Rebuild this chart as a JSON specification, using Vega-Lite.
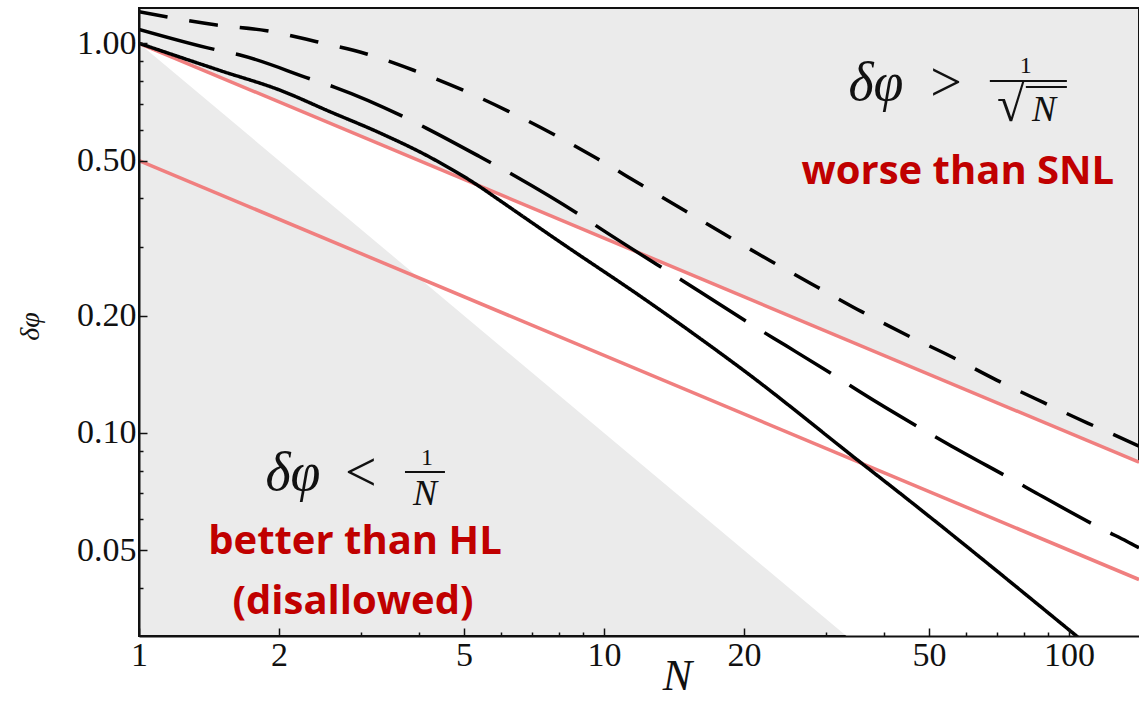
{
  "$schema": "https://vega.github.io/schema/vega-lite/v6.json",
  "width": 1000,
  "height": 628,
  "autosize": {"type": "none"},
  "padding": {"left": 139, "top": 8, "right": 0, "bottom": 66},
  "background": "white",
  "config": {
    "view": {"fill": "#ebebeb", "stroke": "#111111", "strokeWidth": 2}
  },
  "datasets": {
    "region": [
      {"N": 1, "v": 1, "v2": 1},
      {"N": 141.5, "v": 0.08407, "v2": 0.007067}
    ],
    "red": [
      {"N": 1, "v": 1, "line": "a"},
      {"N": 141.5, "v": 0.08407, "line": "a"},
      {"N": 1, "v": 0.5, "line": "b"},
      {"N": 141.5, "v": 0.04203, "line": "b"}
    ],
    "curves": [
      {"curve": "solid", "N": 1, "v": 1.0},
      {"curve": "solid", "N": 1.5, "v": 0.85},
      {"curve": "solid", "N": 2.01, "v": 0.758},
      {"curve": "solid", "N": 2.575, "v": 0.6675},
      {"curve": "solid", "N": 3.299, "v": 0.5885},
      {"curve": "solid", "N": 4.225, "v": 0.51},
      {"curve": "solid", "N": 5.41, "v": 0.4283},
      {"curve": "solid", "N": 5.879, "v": 0.4},
      {"curve": "solid", "N": 8.175, "v": 0.305},
      {"curve": "solid", "N": 12.13, "v": 0.2219},
      {"curve": "solid", "N": 16.09, "v": 0.1748},
      {"curve": "solid", "N": 20, "v": 0.1445},
      {"curve": "solid", "N": 35.9, "v": 0.0834},
      {"curve": "solid", "N": 43.31, "v": 0.07},
      {"curve": "solid", "N": 102.1, "v": 0.0306},
      {"curve": "solid", "N": 110, "v": 0.02845},
      {"curve": "long", "N": 1, "v": 1.086},
      {"curve": "long", "N": 1.472, "v": 0.961},
      {"curve": "long", "N": 1.649, "v": 0.933},
      {"curve": "long", "N": 2.351, "v": 0.808},
      {"curve": "long", "N": 2.639, "v": 0.771},
      {"curve": "long", "N": 3.765, "v": 0.642},
      {"curve": "long", "N": 4.156, "v": 0.605},
      {"curve": "long", "N": 5.41, "v": 0.5115},
      {"curve": "long", "N": 6.437, "v": 0.4563},
      {"curve": "long", "N": 9.103, "v": 0.3554},
      {"curve": "long", "N": 9.888, "v": 0.333},
      {"curve": "long", "N": 13.87, "v": 0.2576},
      {"curve": "long", "N": 16.09, "v": 0.2303},
      {"curve": "long", "N": 21.12, "v": 0.1872},
      {"curve": "long", "N": 24.71, "v": 0.167},
      {"curve": "long", "N": 32.45, "v": 0.1366},
      {"curve": "long", "N": 35.52, "v": 0.1275},
      {"curve": "long", "N": 49.83, "v": 0.1001},
      {"curve": "long", "N": 55.02, "v": 0.0935},
      {"curve": "long", "N": 77.18, "v": 0.0748},
      {"curve": "long", "N": 85.2, "v": 0.07},
      {"curve": "long", "N": 119.5, "v": 0.0562},
      {"curve": "long", "N": 133.1, "v": 0.0527},
      {"curve": "long", "N": 141.5, "v": 0.0507},
      {"curve": "short", "N": 1, "v": 1.205},
      {"curve": "short", "N": 1.469, "v": 1.114},
      {"curve": "short", "N": 1.882, "v": 1.077},
      {"curve": "short", "N": 2.411, "v": 1.0095},
      {"curve": "short", "N": 3.088, "v": 0.939},
      {"curve": "short", "N": 3.884, "v": 0.854},
      {"curve": "short", "N": 4.963, "v": 0.759},
      {"curve": "short", "N": 6.217, "v": 0.67},
      {"curve": "short", "N": 7.769, "v": 0.585},
      {"curve": "short", "N": 9.645, "v": 0.5067},
      {"curve": "short", "N": 12.05, "v": 0.4327},
      {"curve": "short", "N": 14.94, "v": 0.3717},
      {"curve": "short", "N": 18.48, "v": 0.3195},
      {"curve": "short", "N": 22.98, "v": 0.275},
      {"curve": "short", "N": 28.67, "v": 0.2372},
      {"curve": "short", "N": 35.83, "v": 0.2047},
      {"curve": "short", "N": 44.77, "v": 0.1783},
      {"curve": "short", "N": 55.94, "v": 0.1568},
      {"curve": "short", "N": 69.9, "v": 0.1366},
      {"curve": "short", "N": 88.1, "v": 0.1197},
      {"curve": "short", "N": 110, "v": 0.1058},
      {"curve": "short", "N": 122.5, "v": 0.1},
      {"curve": "short", "N": 141.5, "v": 0.0925}
    ],
    "bars": [
      {"N": 67.6, "N2": 99.0, "v": 0.8},
      {"N": 80.8, "N2": 99.0, "v": 0.772},
      {"N": 3.733, "N2": 4.55, "v": 0.0793}
    ],
    "labels": [
      {"role": "mathi", "t": "δφ", "N": 38.45, "v": 0.788},
      {"role": "math", "t": ">", "N": 54.4, "v": 0.788},
      {"role": "frac", "t": "1", "N": 80.8, "v": 0.8746},
      {"role": "rad", "t": "√", "N": 75.0, "v": 0.69},
      {"role": "fraci", "t": "N", "N": 88.4, "v": 0.674},
      {"role": "mathi", "t": "δφ", "N": 2.144, "v": 0.0784},
      {"role": "math", "t": "<", "N": 3.001, "v": 0.0784},
      {"role": "frac", "t": "1", "N": 4.163, "v": 0.0862},
      {"role": "fraci", "t": "N", "N": 4.12, "v": 0.0698},
      {"role": "red", "t": "worse than SNL", "N": 57.7, "v": 0.467},
      {"role": "red", "t": "better than HL", "N": 2.914, "v": 0.0524},
      {"role": "red", "t": "(disallowed)", "N": 2.886, "v": 0.0368}
    ]
  },
  "layer": [
    {
      "data": {"name": "region"},
      "mark": {"type": "area", "color": "white", "clip": true},
      "encoding": {
        "x": {
          "field": "N", "type": "quantitative",
          "scale": {"type": "log", "domain": [1, 141.5], "nice": false},
          "axis": {
            "title": "N",
            "titleFont": "Liberation Serif", "titleFontStyle": "italic", "titleFontWeight": "normal",
            "titleFontSize": 44, "titleColor": "#111111",
            "titleX": 538, "titleY": 53, "titleBaseline": "alphabetic", "titleAlign": "center",
            "values": [1, 2, 3, 4, 5, 6, 7, 8, 9, 10, 20, 30, 40, 50, 60, 70, 80, 90, 100],
            "labelExpr": "indexof([1,2,5,10,20,50,100], datum.value) >= 0 ? format(datum.value, 'd') : ''",
            "labelFont": "Liberation Serif", "labelFontSize": 34, "labelColor": "#111111",
            "labelPadding": 10, "labelFlush": false, "labelOverlap": false, "labelBaseline": "top",
            "tickSize": {"condition": {"test": "indexof([1,2,5,10,20,50,100], datum.value) >= 0", "value": -8}, "value": -4},
            "tickColor": "#111111", "tickWidth": 1.5,
            "domainColor": "#111111", "domainWidth": 2, "grid": false, "zindex": 1
          }
        },
        "y": {
          "field": "v", "type": "quantitative",
          "scale": {"type": "log", "domain": [0.0301, 1.232], "nice": false},
          "axis": {
            "title": "δφ",
            "titleFont": "Liberation Serif", "titleFontStyle": "italic", "titleFontWeight": "normal",
            "titleFontSize": 28, "titleColor": "#111111",
            "titleX": -109, "titleY": 318, "titleBaseline": "middle", "titleAlign": "center", "titleAngle": 270,
            "values": [0.04, 0.05, 0.06, 0.07, 0.08, 0.09, 0.1, 0.2, 0.3, 0.4, 0.5, 0.6, 0.7, 0.8, 0.9, 1],
            "labelExpr": "indexof([0.05,0.1,0.2,0.5,1], datum.value) >= 0 ? format(datum.value, '.2f') : ''",
            "labelFont": "Liberation Serif", "labelFontSize": 34, "labelColor": "#111111",
            "labelPadding": 11, "labelFlush": false, "labelOverlap": false,
            "tickSize": {"condition": {"test": "indexof([0.05,0.1,0.2,0.5,1], datum.value) >= 0", "value": -8}, "value": -4},
            "tickColor": "#111111", "tickWidth": 1.5,
            "domainColor": "#111111", "domainWidth": 2, "grid": false, "zindex": 1
          }
        },
        "y2": {"field": "v2"}
      }
    },
    {
      "data": {"name": "red"},
      "mark": {"type": "line", "color": "#f07f7f", "strokeWidth": 3.5, "clip": true},
      "encoding": {
        "x": {"field": "N", "type": "quantitative"},
        "y": {"field": "v", "type": "quantitative"},
        "detail": {"field": "line"}
      }
    },
    {
      "data": {"name": "curves"},
      "mark": {"type": "line", "color": "#000000", "strokeWidth": 3.5, "strokeCap": "butt", "interpolate": "monotone", "clip": true},
      "encoding": {
        "x": {"field": "N", "type": "quantitative"},
        "y": {"field": "v", "type": "quantitative"},
        "detail": {"field": "curve"},
        "strokeDash": {
          "field": "curve", "type": "nominal",
          "scale": {"domain": ["solid", "long", "short"], "range": [[1, 0], [78, 22], [29, 22]]},
          "legend": null
        }
      }
    },
    {
      "data": {"name": "bars"},
      "mark": {"type": "rule", "color": "#111111", "strokeWidth": 2},
      "encoding": {
        "x": {"field": "N", "type": "quantitative"},
        "x2": {"field": "N2"},
        "y": {"field": "v", "type": "quantitative"}
      }
    },
    {
      "data": {"name": "labels"},
      "transform": [{"filter": "datum.role === 'mathi'"}],
      "mark": {"type": "text", "font": "Liberation Serif", "fontStyle": "italic", "fontSize": 54, "color": "#111111", "align": "center", "baseline": "middle"},
      "encoding": {
        "x": {"field": "N", "type": "quantitative"},
        "y": {"field": "v", "type": "quantitative"},
        "text": {"field": "t"}
      }
    },
    {
      "data": {"name": "labels"},
      "transform": [{"filter": "datum.role === 'math'"}],
      "mark": {"type": "text", "font": "Liberation Serif", "fontSize": 56, "color": "#111111", "align": "center", "baseline": "middle"},
      "encoding": {
        "x": {"field": "N", "type": "quantitative"},
        "y": {"field": "v", "type": "quantitative"},
        "text": {"field": "t"}
      }
    },
    {
      "data": {"name": "labels"},
      "transform": [{"filter": "datum.role === 'frac'"}],
      "mark": {"type": "text", "font": "Liberation Serif", "fontSize": 24, "color": "#111111", "align": "center", "baseline": "middle"},
      "encoding": {
        "x": {"field": "N", "type": "quantitative"},
        "y": {"field": "v", "type": "quantitative"},
        "text": {"field": "t"}
      }
    },
    {
      "data": {"name": "labels"},
      "transform": [{"filter": "datum.role === 'fraci'"}],
      "mark": {"type": "text", "font": "Liberation Serif", "fontStyle": "italic", "fontSize": 36, "color": "#111111", "align": "center", "baseline": "middle"},
      "encoding": {
        "x": {"field": "N", "type": "quantitative"},
        "y": {"field": "v", "type": "quantitative"},
        "text": {"field": "t"}
      }
    },
    {
      "data": {"name": "labels"},
      "transform": [{"filter": "datum.role === 'rad'"}],
      "mark": {"type": "text", "font": "Liberation Serif", "fontSize": 50, "color": "#111111", "align": "center", "baseline": "middle"},
      "encoding": {
        "x": {"field": "N", "type": "quantitative"},
        "y": {"field": "v", "type": "quantitative"},
        "text": {"field": "t"}
      }
    },
    {
      "data": {"name": "labels"},
      "transform": [{"filter": "datum.role === 'red'"}],
      "mark": {"type": "text", "font": "Open Sans", "fontWeight": "bold", "fontSize": 40, "color": "#c00000", "align": "center", "baseline": "middle"},
      "encoding": {
        "x": {"field": "N", "type": "quantitative"},
        "y": {"field": "v", "type": "quantitative"},
        "text": {"field": "t"}
      }
    }
  ]
}
